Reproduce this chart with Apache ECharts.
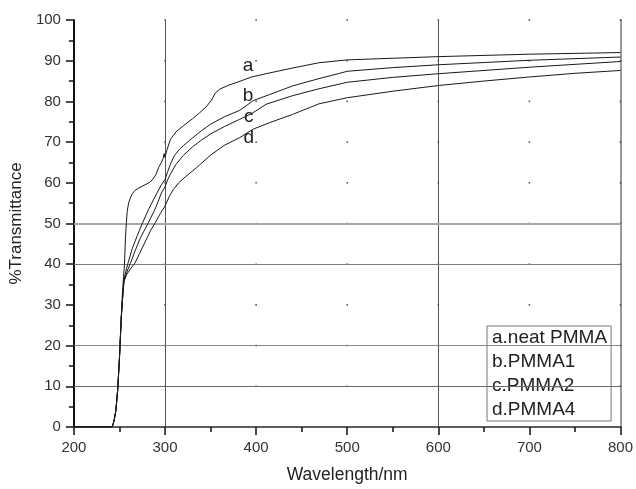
<!DOCTYPE html>
<html>
<head>
<meta charset="utf-8">
<script src="https://cdn.jsdelivr.net/npm/echarts@6/dist/echarts.min.js"></script>
<style>html,body{margin:0;padding:0;background:#fff;}#chart{width:636px;height:489px;}</style>
</head>
<body>
<div id="chart"></div>
<script>
// ---- data (wavelength nm, %T) ----
const seriesNames = ['a.neat PMMA', 'b.PMMA1', 'c.PMMA2', 'd.PMMA4'];
const curveLetters = ['a', 'b', 'c', 'd'];
const letterPos = [[391, 88.8], [391, 81.5], [392, 76.2], [392, 71.0]];

const curveA = [[200,0],[242,0],[244,1.5],[246,4],[248,9],[250,17],[252,27],[253,32],[254.5,37],[255.5,40],[256.5,46],[257.5,50],[258.5,53],[260,55],[262,56.3],[264,57.3],[267,58.1],[271,58.7],[278,59.5],[283,60.1],[286,60.7],[290,62],[293,63.8],[296,65],[298,66],[299,67.2],[300,66.2],[302,68],[306,70.7],[312,72.5],[320,74],[330,75.7],[338,77.2],[345,78.6],[351,80.3],[355,82],[360,83],[370,84],[378,84.6],[395,86],[415,87],[440,88.2],[469,89.5],[500,90.2],[550,90.6],[600,91.0],[650,91.3],[700,91.6],[750,91.8],[800,92.0]];

const curveB = [[200,0],[242,0],[244,1.5],[246,4],[248,9],[250,17],[252,27],[254,33.5],[255,36.3],[257,38.3],[259.6,40.4],[264,43.8],[269.5,47],[275,50],[282,53.5],[290,57],[296,59.5],[300,60.8],[303,62.8],[306,64.6],[310,66.6],[316,68.3],[320,69.1],[330,71],[340,72.8],[350,74.4],[365,76.2],[382,77.8],[397,80.2],[415,81.7],[440,83.8],[469,85.6],[490,86.8],[500,87.4],[550,88.3],[600,89.0],[700,90.1],[800,90.9]];

const curveC = [[200,0],[242,0],[244,1.5],[246,4],[248,9],[250,17],[252,27],[254,33.5],[255,36],[258,38],[262,40.2],[267,43.2],[273,46.5],[282,50.3],[290,54],[296,57.5],[300,59],[303,60.8],[306,62.2],[312,64.5],[320,66.7],[330,68.8],[340,70.5],[350,72],[365,73.8],[382,75.6],[395,77],[411,79.3],[440,81.4],[469,83.1],[500,84.7],[550,85.9],[600,86.8],[700,88.4],[800,89.8]];

const curveD = [[200,0],[242,0],[244,1.5],[246,4],[248,9],[250,17],[252,27],[254,33.5],[255,35.8],[258,37.5],[262,38.8],[267,40.3],[272,42.6],[278,45.4],[284,48.2],[289.5,50.3],[295,52.5],[300,54.3],[305,56.8],[309,58.3],[315,60],[322,61.4],[335,63.8],[349.5,66.7],[365,69.2],[382,71.1],[397,73.2],[415,74.8],[440,76.8],[469,79.4],[500,80.9],[550,82.5],[600,83.9],[650,85],[700,86],[750,86.9],[800,87.6]];

const xTicks = [200, 300, 400, 500, 600, 700, 800];
const yTicks = [0, 10, 20, 30, 40, 50, 60, 70, 80, 90, 100];
const vGridValues = [300, 600];
const hGridValues = [10, 20, 40, 50];

// ---- build ----
const font = "'Liberation Sans', Arial, sans-serif";
const curves = [curveA, curveB, curveC, curveD];

const lattice = [];
xTicks.filter(v => v > 200).forEach(x => yTicks.filter(v => v > 0).forEach(y => lattice.push([x, y])));

const hGridStyles = {10: {color:'#6a6a6a', width:1}, 20: {color:'#8a8a8a', width:1.2}, 40: {color:'#7a7a7a', width:1.2}, 50: {color:'#a8a8a8', width:2}};

const series = curves.map((d, i) => ({
  name: seriesNames[i],
  type: 'line',
  data: d,
  showSymbol: false,
  symbol: 'none',
  lineStyle: {color: '#1a1a1a', width: 1},
  itemStyle: {color: '#1a1a1a'},
  z: 5,
  markPoint: {
    symbol: 'circle', symbolSize: 0, silent: true,
    label: {show: true, formatter: curveLetters[i], fontSize: 19, fontFamily: font, color: '#222', position: 'inside'},
    data: [{coord: letterPos[i]}]
  }
}));

series.push({
  type: 'scatter',
  data: lattice,
  symbol: 'rect',
  symbolSize: 1.6,
  itemStyle: {color: '#333'},
  silent: true,
  z: 2,
  markLine: {
    silent: true,
    symbol: 'none',
    label: {show: false},
    data: vGridValues.map(v => ({xAxis: v, lineStyle: {color: '#555', width: 1, type: 'solid'}}))
      .concat(hGridValues.map(v => ({yAxis: v, lineStyle: {color: hGridStyles[v].color, width: hGridStyles[v].width, type: 'solid'}})))
  }
});

const chart = echarts.init(document.getElementById('chart'), null, {renderer: 'canvas'});
chart.setOption({
  animation: false,
  backgroundColor: '#fff',
  grid: {left: 73, right: 13, top: 20, bottom: 59},
  legend: {
    data: seriesNames,
    orient: 'vertical',
    left: 487, top: 326,
    itemWidth: 0, itemHeight: 19, itemGap: 5,
    padding: [2, 4, 2, 0],
    borderColor: '#777', borderWidth: 1,
    backgroundColor: '#fff',
    icon: 'rect',
    itemStyle: {opacity: 0},
    lineStyle: {opacity: 0},
    selectedMode: false,
    textStyle: {fontSize: 19, fontFamily: font, color: '#222', lineHeight: 19}
  },
  xAxis: [{
    type: 'value', min: 200, max: 800, interval: 100,
    name: 'Wavelength/nm', nameLocation: 'middle', nameGap: 39,
    nameTextStyle: {fontSize: 17.5, fontFamily: font, color: '#222'},
    axisLine: {show: true, lineStyle: {color: '#111', width: 2}},
    axisTick: {show: true, length: 8, lineStyle: {color: '#111', width: 1.5}},
    minorTick: {show: true, splitNumber: 2, length: 5, lineStyle: {color: '#111', width: 1.5}},
    axisLabel: {fontSize: 15, fontFamily: font, color: '#333', margin: 13},
    splitLine: {show: false}
  }, {
    type: 'value', min: 200, max: 800, interval: 100, position: 'top',
    axisLine: {show: true, lineStyle: {color: '#777', width: 1.5}},
    axisTick: {show: false}, axisLabel: {show: false}, splitLine: {show: false}
  }],
  yAxis: [{
    type: 'value', min: 0, max: 100, interval: 10,
    name: '%Transmittance', nameLocation: 'middle', nameGap: 46,
    nameTextStyle: {fontSize: 17, fontFamily: font, color: '#222'},
    axisLine: {show: true, lineStyle: {color: '#111', width: 2}},
    axisTick: {show: true, length: 8, lineStyle: {color: '#111', width: 1.5}},
    minorTick: {show: true, splitNumber: 2, length: 5, lineStyle: {color: '#111', width: 1.5}},
    axisLabel: {fontSize: 15, fontFamily: font, color: '#333', margin: 13},
    splitLine: {show: false}
  }, {
    type: 'value', min: 0, max: 100, interval: 10, position: 'right',
    axisLine: {show: true, lineStyle: {color: '#777', width: 1.5}},
    axisTick: {show: false}, axisLabel: {show: false}, splitLine: {show: false}
  }],
  series: series
});
</script>
</body>
</html>
